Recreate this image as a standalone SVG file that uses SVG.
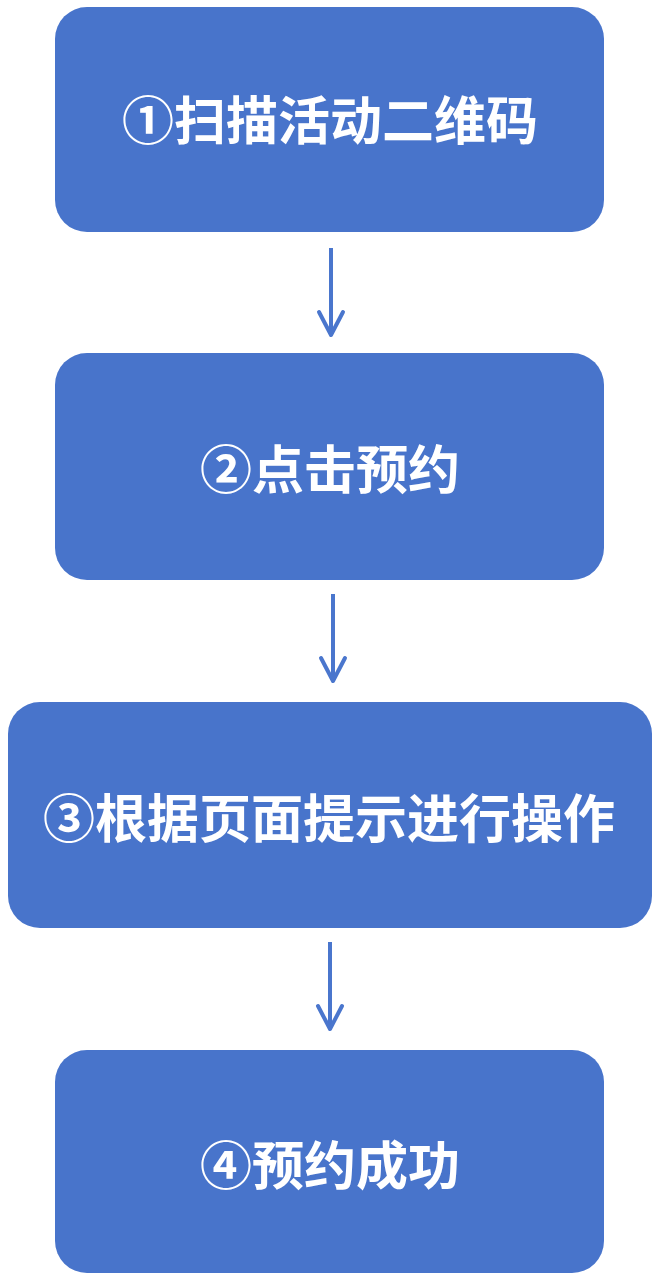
<svg xmlns="http://www.w3.org/2000/svg" width="654" height="1280" viewBox="0 0 654 1280">
<style>
.box{fill:#4874CB;}
.lbl{fill:#FFFFFF;font-family:"Noto Sans CJK SC","Noto Sans CJK JP",sans-serif;font-weight:bold;font-size:52px;text-anchor:middle;dominant-baseline:central;}
.conn line{stroke:#4A76CD;stroke-width:4;}
.conn path{fill:none;stroke:#4A76CD;stroke-width:4;stroke-linecap:round;stroke-linejoin:round;}
</style>
<rect width="654" height="1280" fill="#FFFFFF"/>
<g id="node1">
<rect class="box" x="55" y="7" width="549" height="225" rx="32"/>
<text class="lbl" x="330" y="117">①扫描活动二维码</text>
</g>
<g id="node2">
<rect class="box" x="55" y="353" width="549" height="227" rx="32"/>
<text class="lbl" x="330" y="466">②点击预约</text>
</g>
<g id="node3">
<rect class="box" x="8" y="702" width="644" height="226" rx="32"/>
<text class="lbl" x="329" y="815">③根据页面提示进行操作</text>
</g>
<g id="node4">
<rect class="box" x="55" y="1050" width="549" height="223" rx="32"/>
<text class="lbl" x="330" y="1162">④预约成功</text>
</g>
<g id="connectors" class="conn">
<line x1="331" y1="248" x2="331" y2="334"/>
<path d="M319 312 L331 335 L343 312"/>
<line x1="333" y1="594" x2="333" y2="680"/>
<path d="M321 658 L333 681 L345 658"/>
<line x1="330" y1="942" x2="330" y2="1028"/>
<path d="M318 1006 L330 1029 L342 1006"/>
</g>
</svg>
